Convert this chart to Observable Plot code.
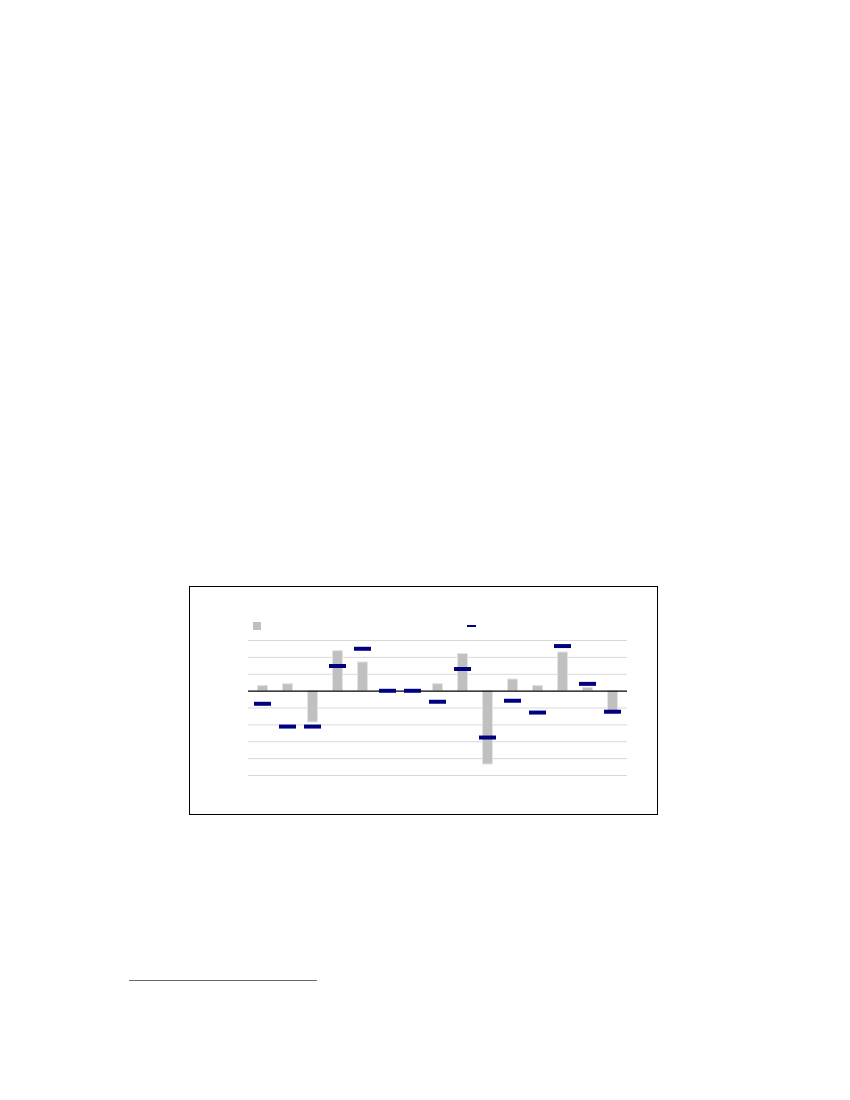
<!DOCTYPE html>
<html>
<head>
<meta charset="utf-8">
<script src="https://cdn.jsdelivr.net/npm/d3@7"></script>
<script src="https://cdn.jsdelivr.net/npm/@observablehq/plot@0.6"></script>
<style>
  html, body { margin: 0; padding: 0; background: #fff; }
  body { width: 850px; height: 1100px; position: relative; font-family: "Liberation Sans", Arial, sans-serif; }
  #chart { position: absolute; left: 189px; top: 586px; }
  #chart svg { display: block; outline: 1px solid #000; outline-offset: -1px; }
  .sw { position: absolute; }
  #footline { position: absolute; left: 129px; top: 980px; width: 188px; height: 1px; background: #6a6a6a; }
</style>
</head>
<body>
<div id="chart"></div>
<div id="footline"></div>
<script>
// Categories (labels not legible in the reference)
const categories = ["1","2","3","4","5","6","7","8","9","10","11","12","13","14","15"];
// Series 1: grey bars
const barValues = [0.31, 0.41, -1.86, 2.37, 1.70, 0, 0, 0.41, 2.20, -4.35, 0.69, 0.31, 2.29, 0.20, -1.37];
// Series 2: navy markers
const markerValues = [-0.75, -2.10, -2.10, 1.49, 2.51, 0.02, 0.02, -0.63, 1.31, -2.75, -0.57, -1.27, 2.67, 0.43, -1.22];
// Gridline values
const yTicks = [-5, -4, -3, -2, -1, 0, 1, 2, 3];

const bars = categories.map((c, i) => ({cat: c, value: barValues[i]}));
const markers = categories.map((c, i) => ({cat: c, value: markerValues[i]}));

const chart = Plot.plot({
  width: 469,
  height: 229,
  marginLeft: 59,
  marginRight: 31,
  marginTop: 54,
  marginBottom: 40,
  x: {domain: categories, paddingInner: 0.325, paddingOuter: 0.1625, axis: null},
  y: {domain: [-5, 3], axis: null},
  marks: [
    Plot.ruleY(yTicks.filter(d => d !== 0), {stroke: "#d9d9d9", strokeWidth: 1}),
    Plot.barY(bars, {x: "cat", y: "value", fill: "#c0c0c0", stroke: "#e4e4e4", strokeWidth: 1, insetLeft: 3.5, insetRight: 3.5}),
    Plot.ruleY([0], {stroke: "#000", strokeWidth: 1.3}),
    Plot.tickY(markers, {x: "cat", y: "value", stroke: "#000080", strokeWidth: 4})
  ]
});
document.getElementById("chart").appendChild(chart);

// Legend swatches (legend text not present in the reference)
const chartDiv = document.getElementById("chart");
const sw1 = document.createElement("div");
sw1.className = "sw";
Object.assign(sw1.style, {left: "64px", top: "36px", width: "8px", height: "8px", background: "#c0c0c0"});
chartDiv.appendChild(sw1);
const sw2 = document.createElement("div");
sw2.className = "sw";
Object.assign(sw2.style, {left: "278px", top: "39px", width: "9px", height: "2px", background: "#000080"});
chartDiv.appendChild(sw2);
</script>
</body>
</html>
